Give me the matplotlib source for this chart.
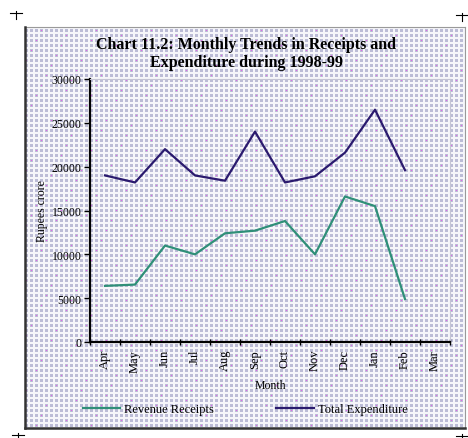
import numpy as np
import matplotlib
matplotlib.use("Agg")
import matplotlib.pyplot as plt
from matplotlib.lines import Line2D

# monthly trends, Rs crore (Mar not reported)
months = ["Apr", "May", "Jun", "Jul", "Aug", "Sep",
          "Oct", "Nov", "Dec", "Jan", "Feb", "Mar"]
revenue_receipts = [6400, 6550, 11000, 10000, 12400, 12700,
                    13800, 10000, 16600, 15500, 4900, np.nan]
total_expenditure = [19000, 18200, 22000, 19000, 18400, 24000,
                     18200, 18900, 21600, 26500, 19600, np.nan]
yticks = [0, 5000, 10000, 15000, 20000, 25000, 30000]

W, H = 468, 439
plt.rcParams["font.family"] = ["Liberation Serif", "DejaVu Serif"]

fig = plt.figure(figsize=(W / 100, H / 100), dpi=100)
fig.patch.set_facecolor("white")

# dotted screen texture behind the chart panel
yy, xx = np.mgrid[0:H, 0:W]
bg = np.ones((H, W, 3))
cell = (xx % 5 < 3) & (yy % 5 < 3)
bg[cell] = np.array([188, 188, 214]) / 255.0
bg[~cell] = np.array([246, 246, 250]) / 255.0
dots = (xx % 5 == 1) & (yy % 5 == 1) & (((xx // 5) * 3 + (yy // 5) * 7) % 11 == 0)
bg[dots] = np.array([235, 90, 235]) / 255.0
outside = (xx < 25) | (yy < 28) | (yy > 428) | (xx > 465)
bg[outside] = 1.0
fig.figimage(bg, xo=0, yo=0, origin="upper", zorder=-10)

def fx(px):
    return px / W

def fy(py):
    return 1 - py / H

# panel frame with darker left/bottom edge
fig.add_artist(Line2D([fx(25), fx(465)], [fy(28), fy(28)], color="#9a9a9a", lw=0.8))
fig.add_artist(Line2D([fx(465), fx(465)], [fy(28), fy(428)], color="#9a9a9a", lw=0.8))
fig.add_artist(Line2D([fx(25), fx(25)], [fy(28), fy(429)], color="#333333", lw=1.8))
fig.add_artist(Line2D([fx(25), fx(465)], [fy(429), fy(429)], color="#333333", lw=1.8))

# crop marks
for cx, cy in [(16, 14), (18, 436), (462, 437), (462, 16)]:
    fig.add_artist(Line2D([fx(cx - 6), fx(cx + 6)], [fy(cy), fy(cy)], color="black", lw=0.8))
    fig.add_artist(Line2D([fx(cx), fx(cx)], [fy(cy - 2), fy(cy + 6)], color="black", lw=0.8))

ax = fig.add_axes([fx(90), 1 - 343 / H, 360 / W, (343 - 80) / H])
ax.set_facecolor("none")
ax.set_zorder(5)

x = np.arange(len(months))
ax.plot(x, revenue_receipts, color="#2f8f78", lw=1.6, label="Revenue Receipts")
ax.plot(x, total_expenditure, color="#2a1a6e", lw=1.6, label="Total Expenditure")

ax.set_xlim(-0.5, len(months) - 0.5)
ax.set_ylim(0, 30000)
ax.set_yticks(yticks)
ax.set_yticklabels([str(v) for v in yticks], fontsize=8.5)
ax.set_xticks(x)
ax.set_xticklabels(months, rotation=90, fontsize=9)
ax.set_xticks(np.arange(-0.5, len(months)), minor=True)
ax.tick_params(axis="x", which="major", length=0, pad=5)
ax.tick_params(axis="x", which="minor", length=4, direction="inout", width=1)
ax.tick_params(axis="y", length=4, width=1, pad=2)

for side in ("left", "bottom"):
    ax.spines[side].set_linewidth(1.6)
    ax.spines[side].set_color("black")
for side in ("top", "right"):
    ax.spines[side].set_linewidth(0.8)
    ax.spines[side].set_color("#c4c4d4")

ax.set_ylabel("Rupees crore", fontsize=8.5, labelpad=3)
ax.set_xlabel("Month", fontsize=8.5, labelpad=5)

fig.text(fx(246), fy(54),
         "Chart 11.2: Monthly Trends in Receipts and\nExpenditure during 1998-99",
         ha="center", va="center", fontsize=11.5, fontweight="bold", linespacing=1.15)

fig.legend(loc="center", bbox_to_anchor=(fx(245), fy(410)), ncol=2, frameon=False,
           fontsize=9, handlelength=3.0, columnspacing=5.0, handletextpad=0.3)

fig.savefig("out.png", dpi=100)
